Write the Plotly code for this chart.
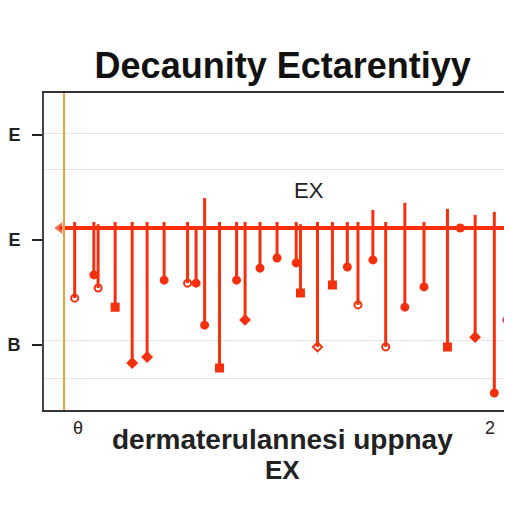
import plotly.graph_objects as go

# Stem positions (x), end values (low), and top values (high)
stem_x = [0.05, 0.14, 0.16, 0.24, 0.32, 0.39, 0.47, 0.58, 0.62, 0.66, 0.73, 0.81, 0.85,
          0.92, 1.00, 1.09, 1.11, 1.19, 1.26, 1.33, 1.38, 1.45, 1.51, 1.60, 1.69, 1.80,
          1.93, 2.02, 2.08]
stem_low = [-1.87, -1.25, -1.60, -2.11, -3.60, -3.44, -1.39, -1.47, -1.47, -2.59, -3.73, -1.39, -2.45,
            -1.07, -0.80, -0.93, -1.73, -3.17, -1.52, -1.04, -2.05, -0.85, -3.17, -2.11, -1.57, -3.17,
            -2.91, -4.40, -2.45]
stem_high = [0.16, 0.16, 0.10, 0.16, 0.16, 0.16, 0.16, 0.16, 0.05, 0.80, 0.16, 0.16, 0.16,
             0.16, 0.16, 0.16, 0.10, 0.16, 0.16, 0.16, 0.16, 0.48, 0.16, 0.67, 0.16, 0.51,
             0.35, 0.43, 0.16]
marker_kind = ["circle-open", "circle", "circle-open", "square", "diamond", "diamond", "circle", "circle-open",
               "circle", "circle", "square", "circle", "diamond", "circle", "circle", "circle", "square",
               "diamond-open", "square", "circle", "circle-open", "circle", "circle-open", "circle", "circle",
               "square", "diamond", "circle", "circle-open"]

base_x = [-0.02, 2.11]
base_y = [0.0, 0.0]

ytick_vals = [2.48, -0.32, -3.12]
ytick_text = ["<b>E</b>", "<b>E</b>", "<b>B</b>"]
ygrid_vals = [2.53, 1.55, -2.99, -4.0]
xtick_vals = [0.066, 2.0]
xtick_text = ["θ", "2"]

red = "#f5300f"

# build stem line segments
sx, sy = [], []
for x, lo, hi in zip(stem_x, stem_low, stem_high):
    sx += [x, x, None]
    sy += [hi, lo, None]

fig = go.Figure()
fig.add_trace(go.Scatter(x=base_x, y=base_y, mode="lines+markers",
                         line=dict(color=red, width=4),
                         marker=dict(symbol=["triangle-left", "circle"], size=[12, 0], color=red),
                         hoverinfo="skip", showlegend=False))
fig.add_trace(go.Scatter(x=sx, y=sy, mode="lines", line=dict(color=red, width=3),
                         hoverinfo="skip", showlegend=False))
fig.add_trace(go.Scatter(x=stem_x, y=stem_low, mode="markers",
                         marker=dict(symbol=marker_kind, size=7, color=red,
                                     line=dict(color=red, width=2)),
                         showlegend=False))
fig.add_trace(go.Scatter(x=[1.86], y=[0.0], mode="markers",
                         marker=dict(symbol="circle", size=9, color=red), showlegend=False))

fig.add_vline(x=0, line=dict(color="#f0a030", width=2))

fig.add_annotation(x=1.15, y=1.0, text="EX", showarrow=False,
                   font=dict(family="Liberation Sans", size=22, color="#222"))

# x-axis title as annotations (two lines)
fig.add_annotation(xref="paper", yref="paper", x=0.51, y=-0.093, yanchor="middle",
                   text="<b>dermaterulannesi uppnay</b>", showarrow=False,
                   font=dict(family="Liberation Sans", size=28, color="#222"))
fig.add_annotation(xref="paper", yref="paper", x=0.51, y=-0.19, yanchor="middle",
                   text="<b>EX</b>", showarrow=False,
                   font=dict(family="Liberation Sans", size=26, color="#222"))

fig.update_layout(
    width=504, height=504,
    margin=dict(l=36, r=0, t=85, b=102),
    paper_bgcolor="white", plot_bgcolor="white",
    title=dict(text="<b>Decaunity Ectarentiyy</b>", x=0.545, xanchor="center", y=0.887, yanchor="middle",
               font=dict(family="Liberation Sans", size=36, color="#111")),
    xaxis=dict(range=[-0.094, 2.103], tickvals=xtick_vals, ticktext=xtick_text,
               showgrid=False, zeroline=False, showline=True, mirror=True,
               linecolor="#333", linewidth=2, ticks="", automargin=False,
               tickfont=dict(family="Liberation Sans", size=18, color="#222")),
    yaxis=dict(range=[-4.853, 3.6], tickvals=ytick_vals, ticktext=ytick_text, automargin=False,
               showgrid=False, zeroline=False, showline=True, linecolor="#444", linewidth=2,
               ticks="outside", ticklen=10, tickcolor="#222", tickwidth=2, ticklabelstandoff=8,
               tickfont=dict(family="Liberation Sans", size=18, color="#222"),
               minor=dict(tickvals=ygrid_vals, showgrid=True, gridcolor="#e4e4e4", gridwidth=1, ticks="")),
)

fig.write_html("out.html")
